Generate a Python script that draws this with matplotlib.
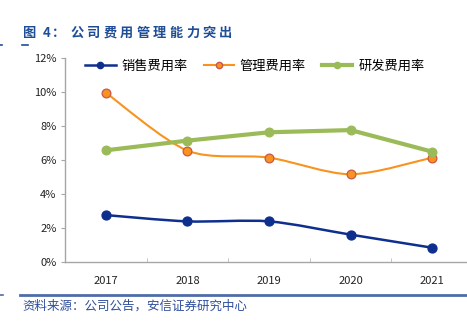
import numpy as np
import matplotlib
matplotlib.use('Agg')
import matplotlib.pyplot as plt
from matplotlib.path import Path
from matplotlib.patches import PathPatch
from matplotlib.lines import Line2D
from matplotlib.ticker import FixedLocator, PercentFormatter

plt.rcParams['font.family'] = ['Noto Sans CJK SC', 'DejaVu Sans']

# 数据
years = ['2017', '2018', '2019', '2020', '2021']
sales = [2.76, 2.39, 2.39, 1.61, 0.84]
admin = [9.96, 6.55, 6.14, 5.16, 6.14]
rnd = [6.57, 7.14, 7.63, 7.76, 6.49]
names = ['销售费用率', '管理费用率', '研发费用率']
title = '图 4：公司费用管理能力突出'
source = '资料来源：公司公告，安信证券研究中心'


# 平滑曲线（类似 Excel 的平滑线）
def smooth_path(x, y, k=6):
    pts = np.column_stack([x, y]).astype(float)
    n = len(pts)
    verts = [pts[0]]
    codes = [Path.MOVETO]
    for i in range(n - 1):
        p0 = pts[max(i - 1, 0)]
        p1 = pts[i]
        p2 = pts[i + 1]
        p3 = pts[min(i + 2, n - 1)]
        c1 = p1 + (p2 - p0) / k
        c2 = p2 - (p3 - p1) / k
        verts += [c1, c2, p2]
        codes += [Path.CURVE4] * 3
    return Path(verts, codes)


fig = plt.figure(figsize=(4.67, 3.25), dpi=100)
W, H = 467, 325
ax = fig.add_axes([65 / W, 1 - 262 / H, (473 - 65) / W, (262 - 58) / H])

x = np.arange(len(years))
styles = [
    dict(color='#0F2F8F', lw=1.8, ms=6.5, mfc='#0F2F8F', mec='#0F2F8F', smooth=True),
    dict(color='#F7931E', lw=1.5, ms=6.3, mfc='#F7931E', mec='#C9574A', smooth=True),
    dict(color='#9BBB59', lw=3.0, ms=6.3, mfc='#9BBB59', mec='#9BBB59', smooth=False),
]
series = [sales, admin, rnd]
for vals, st in zip(series, styles):
    if st['smooth']:
        p = smooth_path(x, vals, k=7)
        ax.add_patch(PathPatch(p, fill=False, edgecolor=st['color'], lw=st['lw'],
                               capstyle='round', joinstyle='round', zorder=2))
    else:
        ax.plot(x, vals, color=st['color'], lw=st['lw'], solid_capstyle='round', zorder=2)
for vals, st in zip(series, styles):
    ax.plot(x, vals, ls='none', marker='o', ms=st['ms'], mfc=st['mfc'],
            mec=st['mec'], mew=0.9, zorder=3)

ax.set_xlim(-0.5, 4.5)
ax.set_ylim(0, 12)
ax.set_yticks(np.arange(0, 13, 2))
ax.yaxis.set_major_formatter(PercentFormatter(decimals=0))
ax.set_xticks(x)
ax.set_xticklabels(years)
ax.xaxis.set_minor_locator(FixedLocator(np.arange(-0.5, 5, 1)))
ax.tick_params(axis='x', which='major', length=0, pad=10, labelsize=8, colors='#222222')
ax.tick_params(axis='x', which='minor', length=3, direction='in', color='#BBBBBB')
ax.tick_params(axis='y', length=3, direction='out', color='#A6A6A6', labelsize=8,
               labelcolor='#222222', pad=3)
for s in ['top', 'right']:
    ax.spines[s].set_visible(False)
for s in ['left', 'bottom']:
    ax.spines[s].set_color('#A6A6A6')
    ax.spines[s].set_linewidth(1.0)

handles = [Line2D([], [], color=st['color'], lw=st['lw'], marker='o', ms=4.5,
                  mfc=st['mfc'], mec=st['mec']) for st in styles]
fig.legend(handles, names, loc='center left', bbox_to_anchor=(76 / W, 1 - 66 / H),
           ncol=3, frameon=False, fontsize=9.5, handlelength=2.3, handletextpad=0.45,
           columnspacing=1.2, borderpad=0.2)

# 标题（逐字排列）
tx = 22
for ch in title:
    fig.text(tx / W, 1 - 33 / H, ch, fontsize=9.5, fontweight='heavy', color='#1F4E96',
             va='center', ha='left')
    if ch == ' ':
        tx += 4
    elif ch == '4':
        tx += 9
    elif ch == '：':
        tx += 19
    else:
        tx += 16.5

fig.add_artist(Line2D([22 / W, 28 / W], [1 - 45 / H] * 2, color='#1F4E96', lw=1.2))
fig.add_artist(Line2D([0, 2 / W], [1 - 45 / H] * 2, color='#1F4E96', lw=1.2))
fig.add_artist(Line2D([20 / W, 1], [1 - 295 / H] * 2, color='#4F6BA8', lw=2))
fig.add_artist(Line2D([0, 3 / W], [1 - 295 / H] * 2, color='#4F6BA8', lw=1.2))
fig.text(22 / W, 1 - 306 / H, source, fontsize=9, style='italic', color='#2F4F9A',
         va='center', ha='left')

fig.savefig('out.png', dpi=100)
